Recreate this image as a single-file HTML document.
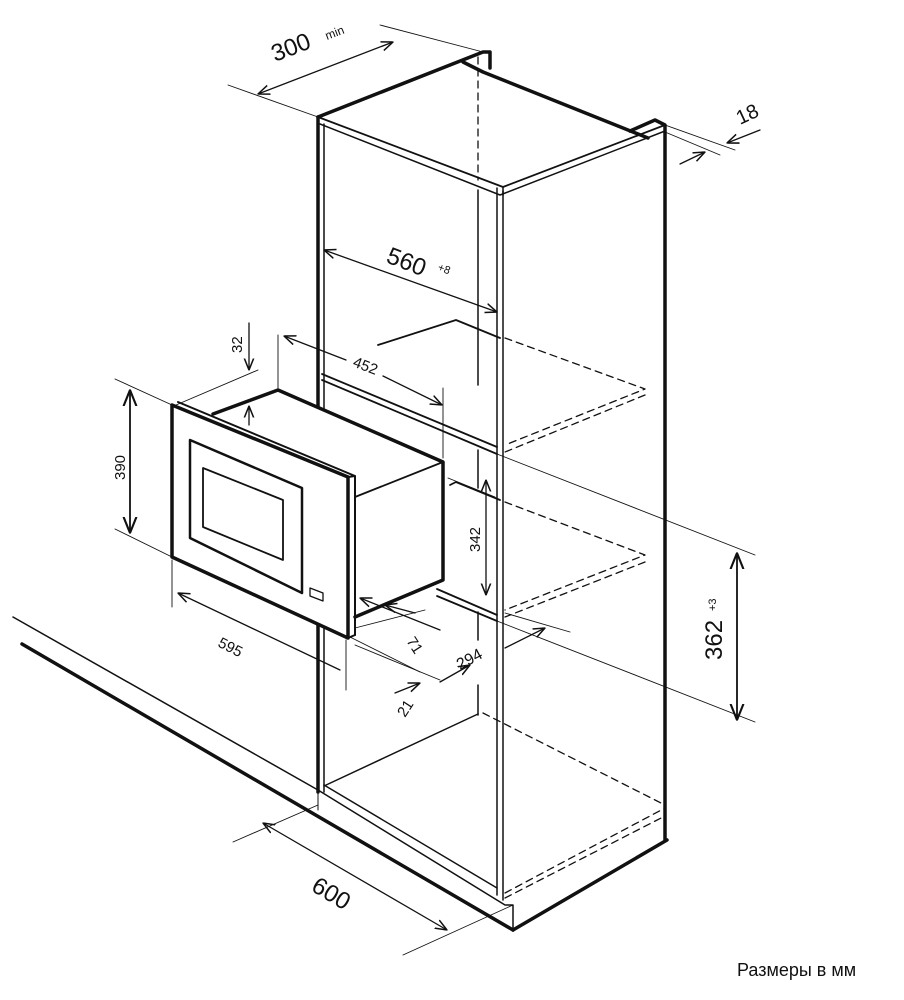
<!DOCTYPE html>
<html><head><meta charset="utf-8"><style>
html,body{margin:0;padding:0;background:#fff;}
svg{display:block}
text{font-family:"Liberation Sans",sans-serif;fill:#111}
</style></head><body>
<svg width="904" height="1000" viewBox="0 0 904 1000" xmlns="http://www.w3.org/2000/svg">
<defs>
<marker id="a" viewBox="0 0 10 10" refX="10" refY="5" markerWidth="9" markerHeight="9" orient="auto-start-reverse"><path d="M0,1 L10,5 L0,9" fill="none" stroke="#111" stroke-width="1.3"/></marker>
</defs>
<g fill="none" stroke="#111" stroke-linecap="round" stroke-linejoin="round">
<!-- countertop -->
<line x1="13" y1="617" x2="318" y2="790" stroke-width="1.5"/>
<line x1="22" y1="644" x2="513" y2="930" stroke-width="3.5"/>
<line x1="318" y1="790" x2="318" y2="810" stroke-width="1"/>
<!-- cabinet top -->
<polyline points="318,117 483,52 490,52 490,68" stroke-width="3.5"/>
<polyline points="463,62 483,72 648,138" stroke-width="3.5"/>
<polyline points="630,131 655,120 665,125 665,840" stroke-width="3.5"/>
<polyline points="318,117 503,187 665,125" stroke-width="1.8"/>
<polyline points="320,124 500,195 665,131" stroke-width="1.5"/>
<line x1="503" y1="187" x2="503" y2="195" stroke-width="1.5"/>
<line x1="478" y1="57" x2="478" y2="180" stroke-width="1.3" stroke-dasharray="7,5"/>
<!-- left panel -->
<line x1="318" y1="117" x2="318" y2="792" stroke-width="3.5"/>
<line x1="324" y1="124" x2="324" y2="792" stroke-width="1.5"/>
<!-- right panel inner edges -->
<line x1="497" y1="188" x2="497" y2="895" stroke-width="1.5"/>
<line x1="503" y1="191" x2="503" y2="900" stroke-width="1.5"/>
<line x1="478" y1="190" x2="478" y2="385" stroke-width="1.5"/>
<!-- plinth -->
<polyline points="318,790 505,905 513,905 513,930" stroke-width="1.5"/>
<line x1="324" y1="785" x2="497" y2="888" stroke-width="1.5"/>
<polyline points="513,930 667,840" stroke-width="3.5"/>
<!-- bottom shelf -->
<line x1="324" y1="786" x2="478" y2="714" stroke-width="1.5"/>
<path d="M483,713 L665,805 M505,893 L665,808 M505,898 L665,816" stroke-width="1.3" stroke-dasharray="7,5"/>
<!-- upper shelf -->
<polyline points="378,345 456,320 500,338" stroke-width="1.8"/>
<path d="M505,338 L645,389 L505,445 M645,395 L505,452" stroke-width="1.3" stroke-dasharray="7,5"/>
<line x1="322" y1="374" x2="497" y2="447" stroke-width="1.8"/>
<line x1="322" y1="380" x2="497" y2="454" stroke-width="1.8"/>
<!-- lower shelf -->
<polyline points="450,485 456,482 500,500" stroke-width="1.8"/>
<path d="M505,502 L645,555 L505,610 M645,562 L505,617" stroke-width="1.3" stroke-dasharray="7,5"/>
<line x1="437" y1="589" x2="497" y2="615" stroke-width="1.8"/>
<line x1="437" y1="596" x2="497" y2="621" stroke-width="1.8"/>
<line x1="478" y1="450" x2="478" y2="488" stroke-width="1.5"/>
<line x1="478" y1="612" x2="478" y2="640" stroke-width="1.5"/>
<line x1="478" y1="685" x2="478" y2="715" stroke-width="1.5"/>
<!-- microwave occluder -->
<polygon points="172,405 178,402 213,414 278,390 443,462 443,580 355,617 355,635 348,638 172,557" fill="#fff" stroke="none"/>
<!-- microwave -->
<polyline points="213,414 278,390 443,462 443,580 355,617" stroke-width="3.5"/>
<line x1="355" y1="497" x2="443" y2="462" stroke-width="1.8"/>
<polygon points="172,405 348,477 348,638 172,557" stroke-width="3.5"/>
<polyline points="178,402 355,476 355,635" stroke-width="2"/>
<line x1="348" y1="477" x2="355" y2="476" stroke-width="2"/>
<line x1="348" y1="638" x2="355" y2="635" stroke-width="2"/>
<polygon points="190,440 302,488 302,593 190,538" stroke-width="2.5"/>
<polygon points="203,468 283,500 283,560 203,527" stroke-width="1.8"/>
<polygon points="310,588 323,593 323,601 310,596" stroke-width="1.3"/>
<!-- dims: 300 min -->
<line x1="228" y1="85" x2="318" y2="117" stroke-width="0.9"/>
<line x1="380" y1="25" x2="483" y2="52" stroke-width="0.9"/>
<line x1="258" y1="94" x2="393" y2="42" stroke-width="1.3" marker-start="url(#a)" marker-end="url(#a)"/>
<!-- 18 -->
<line x1="665" y1="125" x2="735" y2="150" stroke-width="0.9"/>
<line x1="665" y1="132" x2="720" y2="155" stroke-width="0.9"/>
<line x1="680" y1="164" x2="705" y2="152" stroke-width="1.3" marker-end="url(#a)"/>
<line x1="760" y1="130" x2="727" y2="143" stroke-width="1.3" marker-end="url(#a)"/>
<!-- 560 -->
<line x1="324" y1="250" x2="497" y2="312" stroke-width="1.3" marker-start="url(#a)" marker-end="url(#a)"/>
<!-- 452 -->
<line x1="278" y1="335" x2="278" y2="388" stroke-width="0.9"/>
<line x1="443" y1="388" x2="443" y2="458" stroke-width="0.9"/>
<line x1="284" y1="336" x2="346" y2="360" stroke-width="1.3" marker-start="url(#a)"/>
<line x1="383" y1="376" x2="442" y2="405" stroke-width="1.3" marker-end="url(#a)"/>
<!-- 32 -->
<line x1="249" y1="323" x2="249" y2="370" stroke-width="1.3" marker-end="url(#a)"/>
<line x1="249" y1="425" x2="249" y2="406" stroke-width="1.3" marker-end="url(#a)"/>
<line x1="176" y1="405" x2="258" y2="370" stroke-width="0.9"/>
<!-- 390 -->
<line x1="115" y1="379" x2="172" y2="405" stroke-width="0.9"/>
<line x1="115" y1="529" x2="172" y2="557" stroke-width="0.9"/>
<line x1="130" y1="390" x2="130" y2="533" stroke-width="1.8" marker-start="url(#a)" marker-end="url(#a)"/>
<!-- 595 -->
<line x1="172" y1="560" x2="172" y2="607" stroke-width="0.9"/>
<line x1="346" y1="640" x2="346" y2="690" stroke-width="0.9"/>
<line x1="178" y1="593" x2="340" y2="670" stroke-width="1.3" marker-start="url(#a)"/>
<line x1="318" y1="645" x2="318" y2="670" stroke-width="2"/>
<!-- 71 / 21 -->
<line x1="360" y1="598" x2="440" y2="630" stroke-width="1.3" marker-start="url(#a)"/>
<line x1="415" y1="613" x2="385" y2="605" stroke-width="1.3" marker-end="url(#a)"/>
<line x1="350" y1="637" x2="420" y2="672" stroke-width="0.9"/>
<line x1="355" y1="628" x2="425" y2="610" stroke-width="0.9"/>
<line x1="355" y1="645" x2="440" y2="680" stroke-width="0.9"/>
<line x1="395" y1="693" x2="420" y2="683" stroke-width="1.3" marker-end="url(#a)"/>
<!-- 294 -->
<line x1="440" y1="682" x2="470" y2="665" stroke-width="1.3" marker-end="url(#a)"/>
<line x1="505" y1="648" x2="545" y2="628" stroke-width="1.3" marker-end="url(#a)"/>
<line x1="505" y1="613" x2="570" y2="632" stroke-width="0.9"/>
<!-- 342 -->
<line x1="486" y1="480" x2="486" y2="595" stroke-width="1.3" marker-start="url(#a)" marker-end="url(#a)"/>
<line x1="448" y1="478" x2="495" y2="497" stroke-width="0.9"/>
<!-- 362 -->
<line x1="497" y1="454" x2="755" y2="555" stroke-width="0.9"/>
<line x1="497" y1="621" x2="755" y2="722" stroke-width="0.9"/>
<line x1="737" y1="553" x2="737" y2="720" stroke-width="1.8" marker-start="url(#a)" marker-end="url(#a)"/>
<!-- 600 -->
<line x1="233" y1="842" x2="318" y2="805" stroke-width="0.9"/>
<line x1="403" y1="955" x2="513" y2="905" stroke-width="0.9"/>
<line x1="263" y1="823" x2="447" y2="930" stroke-width="1.3" marker-start="url(#a)" marker-end="url(#a)"/>
</g>
<g font-size="20">
<text x="275" y="62" font-size="24" transform="rotate(-21 275 62)">300</text>
<text x="327" y="40" font-size="12" transform="rotate(-21 327 40)">min</text>
<text x="740" y="125" transform="rotate(-25 740 125)">18</text>
<text x="385" y="262" font-size="24" transform="rotate(21 385 262)">560</text>
<text x="437" y="270" font-size="11" transform="rotate(21 437 270)">+8</text>
<text x="352" y="366" font-size="15" transform="rotate(21 352 366)">452</text>
<text x="242" y="353" font-size="15" transform="rotate(-90 242 353)">32</text>
<text x="125" y="480" font-size="15" transform="rotate(-90 125 480)">390</text>
<text x="217" y="646" font-size="15" transform="rotate(27 217 646)">595</text>
<text x="406" y="641" font-size="15" transform="rotate(57 406 641)">71</text>
<text x="405" y="718" font-size="15" transform="rotate(-57 405 718)">21</text>
<text x="460" y="670" font-size="16" transform="rotate(-28 460 670)">294</text>
<text x="480" y="552" font-size="15" transform="rotate(-90 480 552)">342</text>
<text x="722" y="660" font-size="24" transform="rotate(-90 722 660)">362</text>
<text x="716" y="611" font-size="11" transform="rotate(-90 716 611)">+3</text>
<text x="310" y="890" font-size="24" transform="rotate(31 310 890)">600</text>
<text x="737" y="976" font-size="18">Размеры в мм</text>
</g>
</svg>
</body></html>
